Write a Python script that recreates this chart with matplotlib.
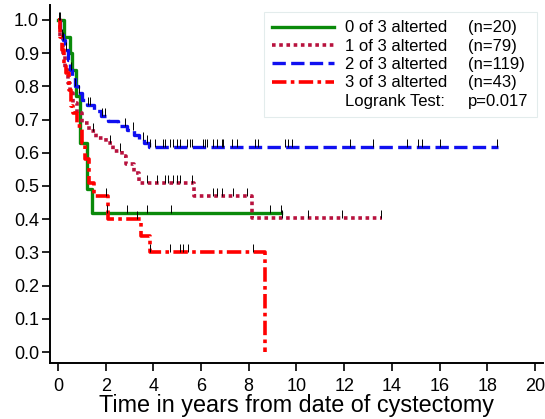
import numpy as np
import matplotlib.pyplot as plt
from matplotlib.lines import Line2D

plt.rcParams['font.family'] = ['Liberation Sans', 'DejaVu Sans']

# group 0 of 3 (n=20)
g0_t = [0, 0.25, 0.5, 0.6, 0.75, 0.92, 1.2, 1.43]
g0_s = [1.0, 0.95, 0.90, 0.85, 0.77, 0.63, 0.49, 0.42]
g0_end = 9.35
g0_cens = [0.1, 2.05, 2.9, 3.73, 4.74, 8.9, 9.35]

# group 1 of 3 (n=79)
g1_t = [0, 0.1, 0.2, 0.3, 0.4, 0.5, 0.65, 0.8, 1.0, 1.3, 1.6, 2.0, 2.3, 2.7, 2.85, 3.2, 3.4, 5.7, 8.15]
g1_s = [1.0, 0.95, 0.90, 0.85, 0.81, 0.78, 0.75, 0.72, 0.69, 0.665, 0.645, 0.63, 0.605, 0.59, 0.565,
        0.54, 0.51, 0.47, 0.405]
g1_end = 13.6
g1_cens = [0.15, 1.48, 2.18, 2.6, 3.72, 4.14, 4.49, 4.63, 4.84, 4.98, 5.12, 5.61, 6.51, 6.65, 6.86,
           7.35, 7.91, 9.38, 10.5, 11.9, 13.55]

# group 2 of 3 (n=119)
g2_t = [0, 0.1, 0.2, 0.3, 0.4, 0.5, 0.6, 0.7, 0.85, 1.0, 1.2, 1.5, 1.8, 2.1, 2.5, 2.9, 3.2, 3.4, 3.6, 3.8]
g2_s = [1.0, 0.97, 0.94, 0.91, 0.88, 0.85, 0.83, 0.80, 0.78, 0.76, 0.745, 0.725, 0.71, 0.695, 0.68,
        0.67, 0.655, 0.64, 0.63, 0.617]
g2_end = 18.45
g2_cens = [0.05, 0.2, 0.35, 0.55, 0.7, 0.9, 1.27, 1.34, 1.83, 1.97, 2.81, 3.16, 3.58, 3.72, 3.86, 4.07,
           4.42, 4.49, 4.70, 4.84, 4.98, 5.12, 5.40, 5.53, 5.61, 6.09, 6.16, 6.23, 6.51, 6.65, 6.86,
           6.93, 7.28, 7.49, 8.26, 8.40, 9.52, 9.64, 9.81, 12.24, 13.21, 14.63, 15.09, 15.26, 16.02,
           18.41]

# group 3 of 3 (n=43)
g3_t = [0, 0.08, 0.15, 0.25, 0.35, 0.45, 0.55, 0.65, 0.8, 1.0, 1.15, 1.3, 1.5, 2.1, 3.5, 3.85, 8.7]
g3_s = [1.0, 0.95, 0.91, 0.86, 0.84, 0.79, 0.74, 0.72, 0.68, 0.63, 0.58, 0.51, 0.47, 0.40, 0.35, 0.30, 0.0]
g3_end = 8.7
g3_cens = [2.0, 3.3, 3.86, 4.70, 5.12, 5.26, 5.46, 8.16]

labels = ['0 of 3 alterted', '1 of 3 alterted', '2 of 3 alterted', '3 of 3 alterted']
counts = ['(n=20)', '(n=79)', '(n=119)', '(n=43)']
pval = 'p=0.017'

groups = [(g0_t, g0_s, g0_end, g0_cens), (g1_t, g1_s, g1_end, g1_cens),
          (g2_t, g2_s, g2_end, g2_cens), (g3_t, g3_s, g3_end, g3_cens)]
colors = ['#0a8a0a', '#b8123e', '#1010f0', '#ff0000']
styles = ['-', (0, (1, 1)), (0, (4, 1.6)), (0, (4, 1.2, 1, 1.2))]
widths = [2.4, 2.6, 2.4, 2.6]

fig = plt.figure(figsize=(5.45, 4.19), dpi=100)
ax = fig.add_axes([50 / 545, 56 / 419, 493 / 545, 358 / 419])

handles = []
for (t, s, end, cens), c, ls, lw in zip(groups, colors, styles, widths):
    tt = list(t) + [end]
    ss = list(s) + [s[-1]]
    ln, = ax.step(tt, ss, where='post', color=c, linestyle=ls, linewidth=lw, zorder=2)
    handles.append(ln)
    idx = np.searchsorted(t, cens, side='right') - 1
    cy = np.array(s)[idx] + 0.012
    ax.plot(cens, cy, linestyle='none', marker='|', color='black', markersize=6,
            markeredgewidth=0.7, zorder=3)

ax.set_xlim(-0.335, 20.34)
ax.set_ylim(-0.033, 1.045)
ax.set_xticks(np.arange(0, 21, 2))
ax.set_yticks(np.arange(0, 1.01, 0.1))
ax.set_yticklabels([f'{v:.1f}' for v in np.arange(0, 1.01, 0.1)])
ax.spines['top'].set_visible(False)
ax.spines['right'].set_visible(False)
ax.spines['left'].set_linewidth(1.4)
ax.spines['bottom'].set_linewidth(1.4)
ax.tick_params(direction='out', length=6, width=1.2, labelsize=13)
ax.tick_params(axis='x', pad=5)
ax.tick_params(axis='y', pad=2)
ax.set_xlabel('Time in years from date of cystectomy', fontsize=16.8, labelpad=-1)

blank = Line2D([], [], linestyle='none')
leg_handles = handles + [blank] + [blank] * 5
leg_labels = labels + ['Logrank Test:'] + counts + [pval]
leg = ax.legend(leg_handles, leg_labels, ncol=2, loc='upper right', fontsize=12,
                handlelength=3.7, handletextpad=0.66, columnspacing=-3.1,
                labelspacing=0.2, borderpad=0.5, borderaxespad=0, frameon=True,
                fancybox=False, bbox_to_anchor=(0.988, 0.98))
leg.get_frame().set_edgecolor('#dde8e8')
leg.get_frame().set_linewidth(0.8)

fig.savefig('out.png', dpi=100)
